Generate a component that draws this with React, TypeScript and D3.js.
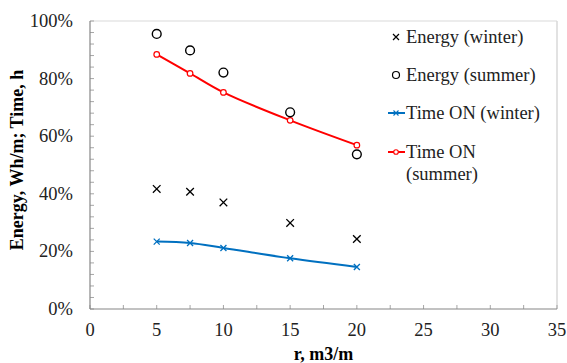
import { useEffect, useRef } from "react";
import * as d3 from "d3";

// r, m3/m
const rValues = [5, 7.5, 10, 15, 20];
// valores en %
const energyWinter = [41.7, 40.7, 37.0, 29.9, 24.3];
const energySummer = [95.5, 89.8, 82.1, 68.3, 53.7];
const timeOnWinter = [23.4, 22.9, 21.2, 17.6, 14.6];
const timeOnSummer = [88.4, 81.8, 75.2, 65.5, 56.9];

const yTicks = [0, 20, 40, 60, 80, 100];
const xTicks = [0, 5, 10, 15, 20, 25, 30, 35];

const legendLabels = [
  ["Energy (winter)"],
  ["Energy (summer)"],
  ["Time ON (winter)"],
  ["Time ON", "(summer)"],
];

const BLUE = "#0070c0";
const RED = "#ff0000";
const FONT = "Liberation Serif, Times New Roman, DejaVu Serif, serif";

const App = () => {
  const ref = useRef<SVGSVGElement | null>(null);

  useEffect(() => {
    if (!ref.current) return;
    const svg = d3.select(ref.current);
    svg.selectAll("*").remove();

    const W = 567;
    const H = 363;
    const margin = { top: 21, right: 10, bottom: 54, left: 90 };
    const plotRight = 557;

    const x = d3.scaleLinear().domain([0, 35]).range([margin.left, plotRight]);
    const y = d3.scaleLinear().domain([0, 100]).range([H - margin.bottom, margin.top]);

    svg.attr("width", W).attr("height", H).attr("font-family", FONT);

    // Borde superior y derecho
    svg.append("line")
      .attr("x1", x(0)).attr("x2", x(35))
      .attr("y1", y(100)).attr("y2", y(100))
      .attr("stroke", "#d9d9d9").attr("stroke-width", 1);
    svg.append("line")
      .attr("x1", x(35)).attr("x2", x(35))
      .attr("y1", y(100)).attr("y2", y(0))
      .attr("stroke", "#d9d9d9").attr("stroke-width", 1.5);

    // Ticks menores eje Y (cada 4%)
    svg.append("g")
      .selectAll("line")
      .data(d3.range(0, 101, 4))
      .enter().append("line")
      .attr("x1", x(0)).attr("x2", x(0) + 4)
      .attr("y1", (d) => y(d)).attr("y2", (d) => y(d))
      .attr("stroke", "#a6a6a6");

    // Ticks eje X (cada 2.5)
    svg.append("g")
      .selectAll("line")
      .data(d3.range(0, 35.01, 2.5))
      .enter().append("line")
      .attr("x1", (d) => x(d)).attr("x2", (d) => x(d))
      .attr("y1", y(0)).attr("y2", y(0) - 4)
      .attr("stroke", "#a6a6a6");

    // Ejes
    svg.append("line")
      .attr("x1", x(0)).attr("x2", x(0))
      .attr("y1", y(0)).attr("y2", y(100))
      .attr("stroke", "#868686").attr("stroke-width", 1.2);
    svg.append("line")
      .attr("x1", x(0)).attr("x2", x(35))
      .attr("y1", y(0)).attr("y2", y(0))
      .attr("stroke", "#868686").attr("stroke-width", 1.2);

    // Etiquetas de ticks
    svg.append("g")
      .selectAll("text")
      .data(yTicks)
      .enter().append("text")
      .attr("x", x(0) - 17)
      .attr("y", (d) => y(d) + 6)
      .attr("text-anchor", "end")
      .attr("font-size", 18.5)
      .attr("fill", "#222")
      .text((d) => `${d}%`);

    svg.append("g")
      .selectAll("text")
      .data(xTicks)
      .enter().append("text")
      .attr("x", (d) => x(d))
      .attr("y", y(0) + 27)
      .attr("text-anchor", "middle")
      .attr("font-size", 18.5)
      .attr("fill", "#222")
      .text((d) => d);

    // Títulos de ejes
    svg.append("text")
      .attr("x", (x(0) + x(35)) / 2)
      .attr("y", H - 3)
      .attr("text-anchor", "middle")
      .attr("font-size", 18)
      .attr("font-weight", "bold")
      .text("r, m3/m");

    svg.append("text")
      .attr("transform", `translate(23, 160) rotate(-90)`)
      .attr("text-anchor", "middle")
      .attr("font-size", 18)
      .attr("font-weight", "bold")
      .text("Energy, Wh/m; Time, h");

    const line = d3.line<number>()
      .x((_, i) => x(rValues[i]))
      .y((d) => y(d))
      .curve(d3.curveCatmullRom.alpha(0.5));

    const cross = (g, cx, cy, s, color, w) => {
      g.append("path")
        .attr("d", `M${cx - s},${cy - s}L${cx + s},${cy + s}M${cx - s},${cy + s}L${cx + s},${cy - s}`)
        .attr("stroke", color)
        .attr("stroke-width", w)
        .attr("fill", "none");
    };

    // Time ON (winter)
    svg.append("path")
      .datum(timeOnWinter)
      .attr("d", line)
      .attr("fill", "none")
      .attr("stroke", BLUE)
      .attr("stroke-width", 2);
    const gBlue = svg.append("g");
    timeOnWinter.forEach((v, i) => cross(gBlue, x(rValues[i]), y(v), 3, BLUE, 1.3));

    // Time ON (summer)
    svg.append("path")
      .datum(timeOnSummer)
      .attr("d", line)
      .attr("fill", "none")
      .attr("stroke", RED)
      .attr("stroke-width", 2);
    svg.append("g")
      .selectAll("circle")
      .data(timeOnSummer)
      .enter().append("circle")
      .attr("cx", (_, i) => x(rValues[i]))
      .attr("cy", (d) => y(d))
      .attr("r", 2.8)
      .attr("fill", "white")
      .attr("stroke", RED)
      .attr("stroke-width", 1.2);

    // Energy (winter)
    const gBlack = svg.append("g");
    energyWinter.forEach((v, i) => cross(gBlack, x(rValues[i]), y(v), 3.8, "#000", 1.3));

    // Energy (summer)
    svg.append("g")
      .selectAll("circle")
      .data(energySummer)
      .enter().append("circle")
      .attr("cx", (_, i) => x(rValues[i]))
      .attr("cy", (d) => y(d))
      .attr("r", 4.4)
      .attr("fill", "none")
      .attr("stroke", "#000")
      .attr("stroke-width", 1.4);

    // Leyenda
    const legendY = [37, 75, 113, 152];
    const mx = 396;
    const lg = svg.append("g");
    cross(lg, mx, legendY[0], 3, "#000", 1.2);
    lg.append("circle").attr("cx", mx).attr("cy", legendY[1]).attr("r", 3.5)
      .attr("fill", "none").attr("stroke", "#000").attr("stroke-width", 1.2);
    lg.append("line").attr("x1", mx - 8).attr("x2", mx + 9)
      .attr("y1", legendY[2]).attr("y2", legendY[2])
      .attr("stroke", BLUE).attr("stroke-width", 2);
    cross(lg, mx, legendY[2], 2.5, BLUE, 1.1);
    lg.append("line").attr("x1", mx - 8).attr("x2", mx + 9)
      .attr("y1", legendY[3]).attr("y2", legendY[3])
      .attr("stroke", RED).attr("stroke-width", 2);
    lg.append("circle").attr("cx", mx).attr("cy", legendY[3]).attr("r", 2.3)
      .attr("fill", "white").attr("stroke", RED).attr("stroke-width", 1.1);

    legendLabels.forEach((lines, i) => {
      const t = lg.append("text")
        .attr("x", 406)
        .attr("y", legendY[i] + 6)
        .attr("font-size", 18.5)
        .attr("fill", "#222");
      lines.forEach((l, j) => {
        t.append("tspan").attr("x", 406).attr("dy", j === 0 ? 0 : 21.5).text(l);
      });
    });
  }, []);

  return <svg ref={ref} style={{ position: "absolute", left: 0, top: 0 }} />;
};

export default App;
